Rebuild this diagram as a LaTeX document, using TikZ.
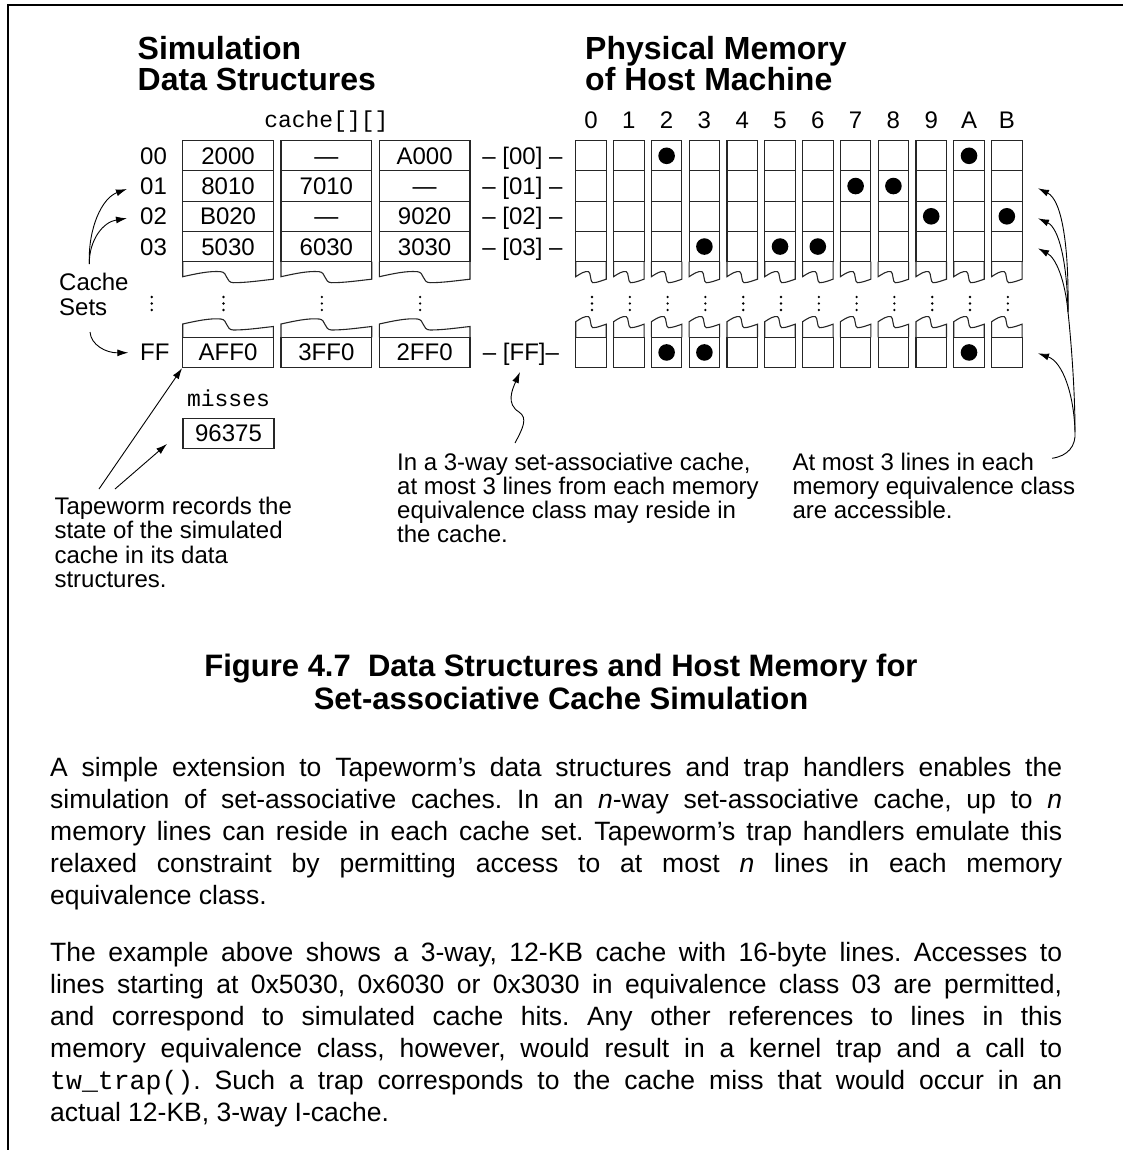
\documentclass[tikz,border=0pt]{standalone}
\usepackage{fontspec}
\setmainfont{Liberation Sans}
\newfontfamily\codefont{Liberation Mono}
\usetikzlibrary{arrows.meta,calc}

% font sizes (1pt in the picture = one unit of the grid)
\newcommand\smalltext{\fontsize{24}{24}\selectfont}
\newcommand\headfont{\fontsize{32}{31}\selectfont\bfseries}
\newcommand\capfont{\fontsize{31}{33}\selectfont\bfseries}
\newcommand\bodyfont{\fontsize{26.5}{32}\selectfont}

% a column segment whose open end is a torn edge:
% #1 left x, #2 width, #3 y of the torn edge at the left, #4 y of the closed end
\newcommand\tornseg[4]{%
  \draw[boxline] ({#1},{#4}) -- ({#1},{#3})
    .. controls ({#1+0.15*#2},{#3-3}) and ({#1+0.3*#2},{#3-6}) .. ({#1+0.42*#2},{#3-5})
    .. controls ({#1+0.5*#2},{#3-4.5}) and ({#1+0.47*#2},{#3+6}) .. ({#1+0.56*#2},{#3+6})
    .. controls ({#1+0.7*#2},{#3+6}) and ({#1+0.85*#2},{#3+4}) .. ({#1+#2},{#3+2.5})
    -- ({#1+#2},{#4});}
% three dots of a vertical ellipsis centred on x = #1
\newcommand\vdotsat[1]{%
  \foreach \dy in {297,303.5,310} {\fill ({#1},\dy) circle (1.3);}}

\begin{document}
\begin{tikzpicture}[x=1pt,y=-1pt,
  boxline/.style={line width=1.1pt, draw=black!85},
  ccell/.style={boxline, minimum width=90.7pt, minimum height=30.25pt,
                inner sep=0pt, font=\smalltext, text height=17pt, text depth=0pt},
  mcell/.style={boxline, minimum width=30.5pt, minimum height=30.25pt,
                inner sep=0pt},
  lbl/.style={inner sep=0pt, font=\smalltext},
  note/.style={inner sep=0pt, font=\smalltext, anchor=base west},
  dot/.style={circle, fill=black, inner sep=0pt, minimum size=16.6pt},
  arr/.style={line width=0.9pt, -{Latex[length=11pt,width=7pt]}},
  thin/.style={line width=0.9pt}]

\useasboundingbox (0,0) rectangle (1122,1150);

% page frame
\draw[line width=2pt] (8,1152) -- (8,5) -- (1124,5);

% headings
\node[inner sep=0pt, anchor=base west] (headsim) at (137.5,60)
  {\headfont\vtop{\baselineskip=31pt\hbox{Simulation}\hbox{Data Structures}}};
\node[inner sep=0pt, anchor=base west] (headmem) at (585,60)
  {\headfont\vtop{\baselineskip=31pt\hbox{Physical Memory}\hbox{of Host Machine}}};

% ---------- simulated cache: cache[][] ----------
\node[inner sep=0pt, anchor=base] (cachename) at (326.4,128)
  {\fontsize{23}{23}\selectfont\codefont cache[][]};

\foreach \r/\a/\b/\cc in {0/2000/—/A000, 1/8010/7010/—, 2/B020/—/9020, 3/5030/6030/3030} {
  \node[ccell] (c-\r-0) at (228.05,{155.8+30.25*\r}) {\a};
  \node[ccell] (c-\r-1) at (326.35,{155.8+30.25*\r}) {\b};
  \node[ccell] (c-\r-2) at (424.65,{155.8+30.25*\r}) {\cc};
}
\node[ccell] (c-F-0) at (228.05,352.45) {AFF0};
\node[ccell] (c-F-1) at (326.35,352.45) {3FF0};
\node[ccell] (c-F-2) at (424.65,352.45) {2FF0};

\foreach \k in {0,1,2} {
  \tornseg{182.7+98.3*\k}{90.7}{276.7}{261.7}
  \tornseg{182.7+98.3*\k}{90.7}{324}{337.3}
  \vdotsat{223.5+98.3*\k}
}

% set numbers
\foreach \r/\rl in {0/00,1/01,2/02,3/03}
  \node[lbl, anchor=base west] (set\rl) at (140,{164.3+30.25*\r}) {\rl};
\node[lbl, anchor=base west] (setFF) at (140,360.95) {FF};
\vdotsat{151.7}

% misses counter
\node[inner sep=0pt, anchor=base] (missname) at (228.5,406.7)
  {\fontsize{23}{23}\selectfont\codefont misses};
\node[boxline, minimum width=91pt, minimum height=30pt, inner sep=0pt,
      font=\smalltext, text height=17pt, text depth=0pt] (misses) at (228.5,433.3) {96375};

% ---------- equivalence class tags ----------
\foreach \r/\rl in {0/00,1/01,2/02,3/03}
  \node[lbl, anchor=base] (tag\rl) at (522.5,{164.3+30.25*\r}) {– [\rl] –};
\node[lbl, anchor=base] (tagFF) at (521,360.95) {– [FF]–};

% ---------- physical memory ----------
\foreach \c/\h in {0/0,1/1,2/2,3/3,4/4,5/5,6/6,7/7,8/8,9/9,10/A,11/B} {
  \node[lbl, anchor=base] (col\h) at ({591+37.8*\c},128.3) {\h};
  \foreach \r in {0,...,3}
    \node[mcell] (m-\r-\c) at ({591+37.8*\c},{155.8+30.25*\r}) {};
  \node[mcell] (m-F-\c) at ({591+37.8*\c},352.45) {};
  \tornseg{575.75+37.8*\c}{30.5}{276.7}{261.7}
  \tornseg{575.75+37.8*\c}{30.5}{321.7}{337.3}
  \vdotsat{592+37.8*\c}
}

% memory lines currently accessible
\foreach \r/\c in {0/2,0/10,1/7,1/8,2/9,2/11,3/3,3/5,3/6,F/2,F/3,F/10}
  \node[dot] (d-\r-\c) at (m-\r-\c.center) {};

% ---------- annotations ----------
\node[note] (cachesets) at (59,290)
  {\vtop{\baselineskip=25pt\hbox{Cache}\hbox{Sets}}};
\node[note] (recordnote) at (54.3,514)
  {\vtop{\baselineskip=24.5pt\hbox{Tapeworm records the}\hbox{state of the simulated}%
   \hbox{cache in its data}\hbox{structures.}}};
\node[note] (waynote) at (397,470)
  {\vtop{\baselineskip=24pt\hbox{In a 3-way set-associative cache,}%
   \hbox{at most 3 lines from each memory}\hbox{equivalence class may reside in}%
   \hbox{the cache.}}};
\node[note] (accessnote) at (792.3,470)
  {\vtop{\baselineskip=24pt\hbox{At most 3 lines in each}%
   \hbox{memory equivalence class}\hbox{are accessible.}}};

% ---------- connectors ----------
% cache sets
\coordinate (csup) at (89.3,264);
\coordinate (csdown) at (90,332);
\coordinate (at01) at (127,189);
\coordinate (at02) at (127,218.3);
\coordinate (atFF) at (128.3,352.7);
\draw[arr] (csup) .. controls (88,228) and (102,198) .. (at01);
\draw[arr] (csup) .. controls (89,240) and (103,222) .. (at02);
\draw[arr] (csdown) .. controls (91,345) and (106,353) .. (atFF);

% data structures
\coordinate (rec1) at (99,489);
\coordinate (rec2) at (115,489);
\coordinate (atmiss) at (167,444);
\draw[arr] (rec1) -- (c-F-0.south west);
\draw[arr] (rec2) -- (atmiss);

% equivalence class
\coordinate (wayfrom) at (515,443);
\coordinate (attag) at (520,372);
\draw[arr] (wayfrom) .. controls (523,428) and (528,418) .. (519,412)
  .. controls (506,404) and (512,390) .. (attag);

% accessible lines
\coordinate (accfrom) at (1052,458.3);
\coordinate (trunk) at (1075,432);
\coordinate (fork) at (1068,312);
\coordinate (atm01) at (1038,188.3);
\coordinate (atm02) at (1038,218.3);
\coordinate (atm03) at (1038,248.3);
\coordinate (atmFF) at (1038,353.3);
\draw[thin] (accfrom) .. controls (1068,456) and (1076,446) .. (trunk);
\draw[thin] (trunk) .. controls (1075,390) and (1071,340) .. (fork);
\draw[arr] (trunk) .. controls (1074,395) and (1063,362) .. (atmFF);
\draw[arr] (fork) .. controls (1065,280) and (1056,258) .. (atm03);
\draw[arr] (fork) .. controls (1067,262) and (1059,228) .. (atm02);
\draw[arr] (fork) .. controls (1069,246) and (1062,200) .. (atm01);

% ---------- caption ----------
\node[inner sep=0pt, anchor=base] (caption) at (561,676)
  {\capfont\vtop{\baselineskip=33pt
     \hbox to 0pt{\hss Figure 4.7\ \ Data Structures and Host Memory for\hss}%
     \hbox to 0pt{\hss Set-associative Cache Simulation\hss}}};

% ---------- text ----------
\node[inner sep=0pt, anchor=base west] (body) at (50,776)
  {\parbox[t]{1012pt}{\bodyfont\frenchspacing\parindent=0pt
   A simple extension to Tapeworm’s data structures and trap handlers enables the\linebreak
   simulation of set-associative caches. In an \emph{n}-way set-associative cache, up to \emph{n}\linebreak
   memory lines can reside in each cache set. Tapeworm’s trap handlers emulate this\linebreak
   relaxed constraint by permitting access to at most \emph{n} lines in each memory\linebreak
   equivalence class.\par
   \vspace{25pt}
   The example above shows a 3-way, 12-KB cache with 16-byte lines. Accesses to\linebreak
   lines starting at 0x5030, 0x6030 or 0x3030 in equivalence class 03 are permitted,\linebreak
   and correspond to simulated cache hits. Any other references to lines in this\linebreak
   memory equivalence class, however, would result in a kernel trap and a call to\linebreak
   {\codefont tw\_trap()}. Such a trap corresponds to the cache miss that would occur in an\linebreak
   actual 12-KB, 3-way I-cache.\par}};

\end{tikzpicture}
\end{document}
